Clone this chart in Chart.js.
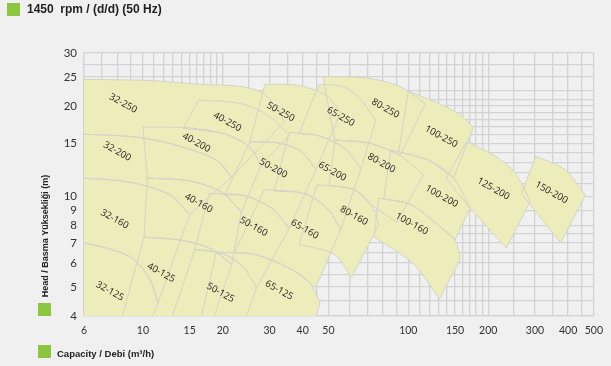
<!DOCTYPE html>
<html>
<head>
<meta charset="utf-8">
<script src="https://cdn.jsdelivr.net/npm/chart.js@4.4.1/dist/chart.umd.min.js"></script>
<style>
  html, body { margin: 0; padding: 0; background: #f0f0f0; }
  #wrap { width: 611px; height: 366px; }
</style>
</head>
<body>
<div id="wrap"><canvas id="chart" width="611" height="366"></canvas></div>
<script>
// axis ticks
const xGrid = [6,7,8,9,10,11,12,13,14,15,16,17,18,19,20,25,30,35,40,45,50,60,70,80,90,100,110,120,130,140,150,160,170,180,190,200,250,300,350,400,450,500];
const xLabels = [6,10,15,20,30,40,50,100,150,200,300,400,500];
const yGrid = [4,4.5,5,5.5,6,6.5,7,7.5,8,9,10,11,12,13,14,15,16,17,18,19,20,21,22.5,25,27.5,30];
const yLabels = [4,5,6,7,8,9,10,15,20,25,30];

// pump tiles, [capacity m3/h, head m]
// top = max impeller curve (left to right), bot = min impeller curve (left to right)
// row 250
const t100_250 = { top: [[100,22.4],[130,20.4],[155,18.8],[176,17.0]], bot: [[92,14.07],[119,13.2],[148,11.5]] };
const t80_250  = { top: [[47.7,25.0],[69,24.8],[92,23.3],[116,20.4]], bot: [[52.9,15.4],[71,15.05],[93.4,13.75]] };
const t65_250  = { top: [[46.1,23.6],[57.2,23.1],[66.3,20.9],[75.4,17.9]], bot: [[38.8,16.2],[46.1,15.9],[57.2,14.5],[66.3,12.4]] };
const t50_250  = { top: [[28.8,23.6],[38.8,23.4],[48.6,21.8],[55.7,19.1]], bot: [[25.3,15.2],[32.6,15.05],[39.5,14.1],[44.9,12.3]] };
const t40_250  = { top: [[16.2,20.9],[23.1,20.4],[29.9,18.5],[35.6,16.0]], bot: [[14.2,16.86],[20.5,16.1],[25.2,14.6],[27.9,12.7]] };
const t32_250  = { top: [[5,24.5],[6,24.5],[10.6,24.3],[16.35,23.6],[23.1,23.25],[27.9,22.2],[32.1,19.65],[34.1,17.67]],
                   bot: [[5,16.1],[6,16.1],[9.73,15.7],[14.1,14.6],[18.9,13.2],[21.6,11.6]] };
// row 200
const t150_200 = { top: [[302,13.6],[388,12.3],[464,10.1]], bot: [[267,10.2],[308,8.7],[375,7.0]] };
const t125_200 = { top: [[166,15.2],[213,13.6],[253,11.95],[288,9.64]], bot: [[139,11.5],[166,9.43],[197,7.96],[234,6.73]] };
const t100_200 = { top: [[85.9,14.28],[119,13.2],[148,11.5],[171,9.14]], bot: [[80.8,9.8],[102,9.4],[130,8.0],[150,7.16]] };
const t80_200  = { top: [[52.9,15.4],[71,15.05],[92,13.75],[114,11.8]], bot: [[50.3,10.87],[62.4,10.54],[72.3,9.4],[90.5,8.21]] };
const t65_200  = { top: [[35.6,16.35],[46.1,15.9],[57.2,14.5],[66.3,12.4]], bot: [[31.2,10.41],[40.5,10.22],[49.4,9.14],[55.6,7.77]] };
const t50_200  = { top: [[25.3,15.2],[32.6,15.05],[39.5,14.1],[44.9,12.3]], bot: [[20.3,10.1],[24.1,10.06],[30.5,9.14],[35.6,7.84]] };
const t40_200  = { top: [[10,17.0],[15,16.9],[20.5,16.1],[25.2,14.6],[27.9,12.7]], bot: [[10.4,11.5],[15,11.26],[19.8,10.33],[23.5,8.87]] };
const t32_200  = { top: [[5,16.1],[6,16.1],[9.73,15.7],[14.1,14.6],[18.9,13.2],[21.6,11.6]],
                   bot: [[5,11.5],[6,11.5],[8.93,11.15],[12.6,10.14],[15,8.71]] };
// row 160
const t100_160 = { top: [[77.4,9.87],[102,9.4],[130,8.0],[150,7.16],[157,6.19]], bot: [[74.2,7.32],[105,5.95],[131,4.56]] };
const t80_160  = { top: [[45.3,10.94],[62.4,10.54],[72.3,9.4],[77.4,8.07]], bot: [[38.8,6.93],[52.5,6.42],[61.2,5.38]] };
const t65_160  = { top: [[28.7,10.54],[40.5,10.22],[49.4,9.14],[55.6,7.77]], bot: [[22.1,6.48],[26.3,6.42],[35.6,5.77],[42.3,5.19],[44.8,4.96]] };
const t50_160  = { top: [[17.8,10.23],[24.1,10.06],[30.5,9.14],[35.6,7.84]], bot: [[15.7,6.67],[20.3,6.42],[24.1,5.77],[26.8,4.96]] };
const t40_160  = { top: [[10.4,11.5],[15,11.26],[19.8,10.33],[23.5,8.87]], bot: [[10.1,7.32],[13.75,7.16],[17.8,6.73],[21.6,5.95]] };
const t32_160  = { top: [[5,11.5],[6,11.5],[8.93,11.15],[12.6,10.14],[15,8.71]], bot: [[5,7],[6,7],[8.93,6.3],[10.6,5.31],[11.4,4.42]] };
// row 125
const t65_125  = { top: [[18.9,6.53],[26.3,6.42],[35.6,5.77],[42.3,5.19],[46.5,4.42]], bot: [[16.35,3.74],[43.8,3.74]] };
const t50_125  = { top: [[15.7,6.67],[20.3,6.42],[24.1,5.77],[26.8,4.96]], bot: [[12.6,3.74],[23.9,3.74]] };
const t40_125  = { top: [[10.1,7.32],[13.75,7.16],[17.8,6.73],[21.6,5.95]], bot: [[8.19,3.74],[18.1,3.74]] };
const t32_125  = { top: [[5,7],[6,7],[8.93,6.3],[10.6,5.31],[11.4,4.42]], bot: [[5,3.74],[10.6,3.74]] };

const tiles = [t100_250, t80_250, t65_250, t50_250, t40_250, t32_250,
  t150_200, t125_200, t100_200, t80_200, t65_200, t50_200, t40_200, t32_200,
  t100_160, t80_160, t65_160, t50_160, t40_160, t32_160,
  t65_125, t50_125, t40_125, t32_125];

// labels
const labelNames = ['32-250','40-250','50-250','65-250','80-250','100-250',
  '32-200','40-200','50-200','65-200','80-200','100-200','125-200','150-200',
  '32-160','40-160','50-160','65-160','80-160','100-160',
  '32-125','40-125','50-125','65-125'];
const labelQ = [8.42,20.8,33,55.6,82,133, 8.0,15.9,31,51.7,79.2,133.5,209,346, 7.82,16.2,26.1,40.7,62.4,103, 7.5,11.7,19.6,32.6];
const labelH = [20.4,17.7,19.1,18.4,19.6,15.8, 14.1,15.1,12.4,12.1,12.9,10.0,10.6,10.3, 8.4,9.5,7.93,7.77,8.62,8.1, 4.84,5.57,4.78,4.87];

const FILL = '#ededbb';
const EDGE = '#d3d3c9';
const GRID = '#d3d3d3';
const GREEN = '#8cc63f';

// closed outline; corners are repeated so the spline keeps them sharp
function ring(t) {
  const seq = [];
  const add = arr => arr.forEach((p, i) => {
    seq.push({x: p[0], y: p[1]});
    if (i === 0 || i === arr.length - 1) seq.push({x: p[0], y: p[1]});
  });
  add(t.top);
  add(t.bot.slice().reverse());
  seq.push({x: t.top[0][0], y: t.top[0][1]});
  return seq;
}

const datasets = [];
tiles.forEach(t => {
  const pts = ring(t);
  datasets.push({ data: pts, fill: 'shape', backgroundColor: FILL, borderWidth: 0,
    borderColor: 'rgba(0,0,0,0)', pointRadius: 0, tension: 0.3, capBezierPoints: false, order: 2 });
  datasets.push({ data: pts, fill: false, borderColor: EDGE, borderWidth: 1,
    pointRadius: 0, tension: 0.3, capBezierPoints: false, order: 1 });
});

const decor = {
  id: 'decor',
  afterDraw(chart) {
    const ctx = chart.ctx;
    const xs = chart.scales.x, ys = chart.scales.y;
    ctx.save();
    // tile names
    ctx.fillStyle = '#1e1e1e';
    ctx.font = '9.5px "Open Sans"';
    ctx.textAlign = 'center';
    ctx.textBaseline = 'middle';
    labelNames.forEach((name, i) => {
      ctx.save();
      ctx.translate(xs.getPixelForValue(labelQ[i]), ys.getPixelForValue(labelH[i]));
      ctx.rotate(29 * Math.PI / 180);
      ctx.fillText(name, 0, 0);
      ctx.restore();
    });
    // header + axis titles
    ctx.fillStyle = GREEN;
    ctx.fillRect(7, 3, 13, 13);
    ctx.fillRect(38, 303, 13, 13);
    ctx.fillRect(38, 345, 13, 13);
    ctx.fillStyle = '#222';
    ctx.textAlign = 'left';
    ctx.font = 'bold 12px "Liberation Sans"';
    ctx.fillText('1450  rpm / (d/d) (50 Hz)', 27, 10);
    ctx.font = 'bold 9.5px "Liberation Sans"';
    ctx.fillText('Capacity / Debi (m\u00b3/h)', 57, 354);
    ctx.save();
    ctx.translate(46, 236);
    ctx.rotate(-Math.PI / 2);
    ctx.textAlign = 'center';
    ctx.font = 'bold 9px "Liberation Sans"';
    ctx.fillText('Head / Basma Y\u00fcksekli\u011fi (m)', 0, 0);
    ctx.restore();
    ctx.restore();
  }
};

new Chart(document.getElementById('chart'), {
  type: 'line',
  data: { datasets },
  options: {
    responsive: false,
    animation: false,
    devicePixelRatio: 1,
    layout: { padding: { top: 53, right: 15, left: 0, bottom: 0 } },
    plugins: { legend: { display: false }, tooltip: { enabled: false } },
    scales: {
      x: {
        type: 'logarithmic', min: 6, max: 500, z: 1,
        afterBuildTicks: s => { s.ticks = xGrid.map(v => ({value: v})); },
        afterFit: s => { s.height = 50; },
        grid: { color: GRID, lineWidth: 1.3, drawTicks: false },
        border: { color: GRID, width: 1.3 },
        ticks: {
          autoSkip: false, maxRotation: 0, padding: 8, color: '#333',
          font: { family: 'Lato', size: 10.5 },
          callback: v => xLabels.includes(v) ? String(v) : ''
        }
      },
      y: {
        type: 'logarithmic', min: 4, max: 30, z: 1,
        afterBuildTicks: s => { s.ticks = yGrid.map(v => ({value: v})); },
        afterFit: s => { s.width = 84; },
        grid: { color: GRID, lineWidth: 1.3, drawTicks: false },
        border: { color: GRID, width: 1.3 },
        ticks: {
          autoSkip: false, padding: 7, color: '#333',
          font: { family: 'Lato', size: 11.5 },
          callback: v => yLabels.includes(v) ? String(v) : ''
        }
      }
    }
  },
  plugins: [decor]
});
</script>
</body>
</html>
